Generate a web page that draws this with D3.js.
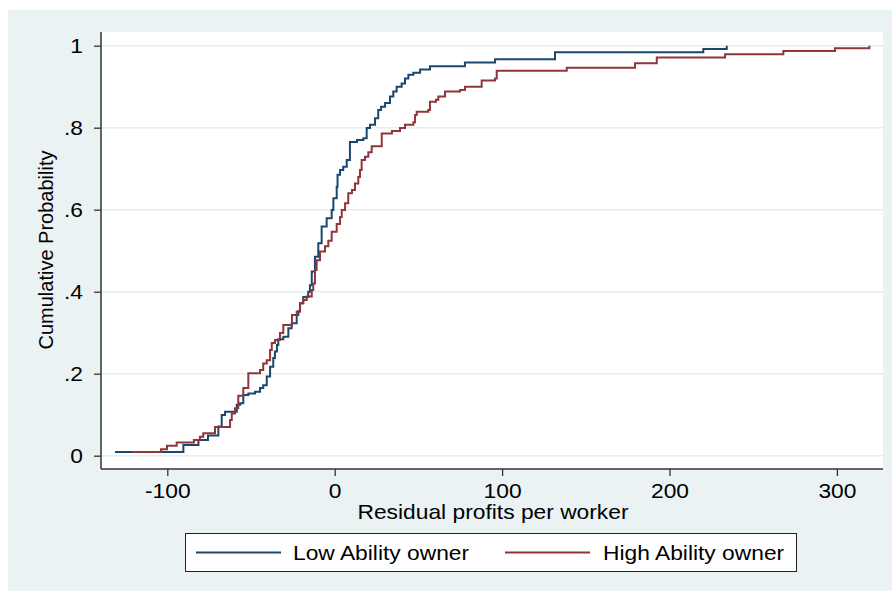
<!DOCTYPE html>
<html>
<head>
<meta charset="utf-8">
<script src="https://cdn.jsdelivr.net/npm/d3@7"></script>
<style>
  body { margin: 0; background: #ffffff; }
  text { font-family: "Liberation Sans", Arial, sans-serif; fill: #000; }
</style>
</head>
<body>
<svg id="chart" width="892" height="593"></svg>
<script>
// Empirical CDF of residual profits per worker, low-ability owners (step positions and levels)
const lowX = [-131.2, -90.4, -81.4, -75.7, -69.5, -67.5, -65.5, -58.5, -56.5, -54.6,
  -51.6, -47.6, -44.6, -42.7, -40.6, -38.6, -36.7, -35.7, -34.5, -33.7,
  -30.7, -27.7, -25.7, -22.7, -21.7, -20.7, -18.8, -15.8, -14.8, -13.7,
  -11.8, -9.8, -7.8, -4.8, -1.8, -0.8, 1.2, 1.7, 3.2, 5.1,
  7.2, 9.1, 13.3, 17.1, 19.1, 21.1, 24.1, 26.0, 27.7, 30.1,
  33.0, 35.0, 37.0, 40.0, 42.0, 44.0, 47.0, 51.0, 56.9, 77.8,
  95.8, 131.6, 220.2, 234.2];
const lowP = [0.009, 0.026, 0.038, 0.049, 0.071, 0.099, 0.107, 0.124, 0.128, 0.148,
  0.152, 0.156, 0.165, 0.172, 0.193, 0.217, 0.238, 0.254, 0.270, 0.284,
  0.290, 0.311, 0.323, 0.343, 0.353, 0.372, 0.387, 0.400, 0.416, 0.449,
  0.485, 0.518, 0.559, 0.579, 0.599, 0.628, 0.656, 0.685, 0.697, 0.705,
  0.721, 0.765, 0.770, 0.774, 0.799, 0.807, 0.823, 0.843, 0.851, 0.860,
  0.876, 0.888, 0.900, 0.908, 0.920, 0.929, 0.934, 0.942, 0.950, 0.959,
  0.967, 0.984, 0.992, 1.000];

// Empirical CDF, high-ability owners
const highX = [-121.3, -103.8, -100.2, -94.4, -84.1, -80.5, -78.5, -71.5, -62.5, -61.5,
  -59.6, -57.6, -54.6, -51.6, -44.6, -42.7, -40.6, -38.6, -37.6, -35.7,
  -32.7, -30.7, -25.5, -22.7, -20.7, -18.8, -16.7, -13.7, -12.8, -11.8,
  -10.8, -8.8, -5.8, -3.8, -1.8, 1.2, 3.2, 4.2, 6.2, 8.1,
  10.3, 12.1, 14.1, 15.1, 16.1, 18.1, 20.1, 22.1, 28.1, 34.2,
  39.0, 42.0, 47.0, 48.0, 49.0, 55.9, 56.9, 60.5, 61.9, 65.9,
  74.9, 77.8, 87.8, 95.8, 96.8, 138.6, 179.4, 192.4, 233.2, 268.0,
  298.9, 319.4];
const highP = [0.009, 0.016, 0.024, 0.032, 0.038, 0.046, 0.055, 0.070, 0.087, 0.103,
  0.116, 0.146, 0.165, 0.201, 0.209, 0.225, 0.233, 0.258, 0.275, 0.282,
  0.299, 0.319, 0.343, 0.351, 0.372, 0.380, 0.388, 0.404, 0.420, 0.453,
  0.477, 0.498, 0.511, 0.524, 0.546, 0.565, 0.582, 0.599, 0.616, 0.640,
  0.648, 0.664, 0.680, 0.697, 0.721, 0.729, 0.740, 0.755, 0.786, 0.792,
  0.799, 0.807, 0.813, 0.831, 0.839, 0.843, 0.863, 0.868, 0.876, 0.888,
  0.892, 0.900, 0.915, 0.920, 0.939, 0.946, 0.957, 0.971, 0.979, 0.987,
  0.994, 1.000];

const xTicks = [-100, 0, 100, 200, 300];
const yTicks = [0, 0.2, 0.4, 0.6, 0.8, 1];
const yTickLabels = ["0", ".2", ".4", ".6", ".8", "1"];
const seriesNames = ["Low Ability owner", "High Ability owner"];
const seriesColors = ["#1a476f", "#90353b"];
const xTitle = "Residual profits per worker";
const yTitle = "Cumulative Probability";

const svg = d3.select("#chart");
const W = 892;
const plot = { left: 101, right: 883, top: 32, bottom: 469 };
const FONT = 20;
const SX = 1.14;   // horizontal stretch of the lettering

// graph region background
svg.append("rect").attr("x", 8).attr("y", 10).attr("width", W - 8).attr("height", 581)
  .attr("fill", "#eaf2f3");
// plot region
svg.append("rect").attr("x", plot.left).attr("y", plot.top)
  .attr("width", plot.right - plot.left).attr("height", plot.bottom - plot.top)
  .attr("fill", "#ffffff");

const x = d3.scaleLinear().domain([-100, 300]).range([167.3, 836.9]);
const y = d3.scaleLinear().domain([0, 1]).range([455.7, 45.7]);

// horizontal grid
svg.append("g").selectAll("line").data(yTicks).join("line")
  .attr("x1", plot.left).attr("x2", plot.right)
  .attr("y1", d => y(d)).attr("y2", d => y(d))
  .attr("stroke", "#e6eef0").attr("stroke-width", 1.6);

// axes
const yAxis = svg.append("g").attr("transform", `translate(${plot.left},0)`)
  .call(d3.axisLeft(y).tickValues(yTicks).tickFormat((d, i) => yTickLabels[i])
    .tickSize(7).tickPadding(5));
const xAxis = svg.append("g").attr("transform", `translate(0,${plot.bottom})`)
  .call(d3.axisBottom(x).tickValues(xTicks).tickFormat(d3.format("d"))
    .tickSize(7).tickPadding(8));
[yAxis, xAxis].forEach(g => {
  g.select(".domain").remove();
  g.selectAll(".tick line").attr("stroke", "#333").attr("stroke-width", 1.3);
  g.selectAll(".tick text").attr("font-size", FONT).attr("fill", "#000")
    .attr("font-family", "'Liberation Sans', Arial, sans-serif")
    .attr("transform", `scale(${SX},1)`);
});
xAxis.selectAll(".tick text").text(d => d < 0 ? "-" + Math.abs(d) : d);
yAxis.selectAll(".tick text").attr("x", -18 / SX);

svg.append("line").attr("x1", plot.left).attr("x2", plot.left)
  .attr("y1", plot.top).attr("y2", plot.bottom).attr("stroke", "#333").attr("stroke-width", 1.5);
svg.append("line").attr("x1", plot.left).attr("x2", plot.right)
  .attr("y1", plot.bottom).attr("y2", plot.bottom).attr("stroke", "#333").attr("stroke-width", 1.5);

// CDF step lines
const line = d3.line().x(d => x(d[0])).y(d => y(d[1])).curve(d3.curveStepAfter);
const series = [d3.zip(lowX, lowP), d3.zip(highX, highP)];
series.forEach((s, i) => {
  svg.append("path").datum(s).attr("d", line)
    .attr("fill", "none").attr("stroke", seriesColors[i])
    .attr("stroke-width", 2).attr("stroke-linejoin", "miter");
});

// text placed at (tx, ty) with horizontal stretch
function label(parent, tx, ty, str, anchor) {
  return parent.append("text")
    .attr("transform", `translate(${tx},${ty}) scale(${SX},1)`)
    .attr("text-anchor", anchor).attr("font-size", FONT).text(str);
}

// axis titles
label(svg, 493, 519, xTitle, "middle");
svg.append("text").attr("transform", "translate(53,250) rotate(-90)")
  .attr("text-anchor", "middle").attr("font-size", FONT).text(yTitle);

// legend
const lg = svg.append("g");
lg.append("rect").attr("x", 185.5).attr("y", 533.5).attr("width", 611).attr("height", 38)
  .attr("fill", "#ffffff").attr("stroke", "#222").attr("stroke-width", 1);
const legendItems = [{ x0: 196, x1: 281, tx: 293 }, { x0: 505, x1: 590, tx: 603 }];
legendItems.forEach((it, i) => {
  lg.append("line").attr("x1", it.x0).attr("x2", it.x1).attr("y1", 552.5).attr("y2", 552.5)
    .attr("stroke", seriesColors[i]).attr("stroke-width", 2);
  label(lg, it.tx, 559.5, seriesNames[i], "start");
});
</script>
</body>
</html>
